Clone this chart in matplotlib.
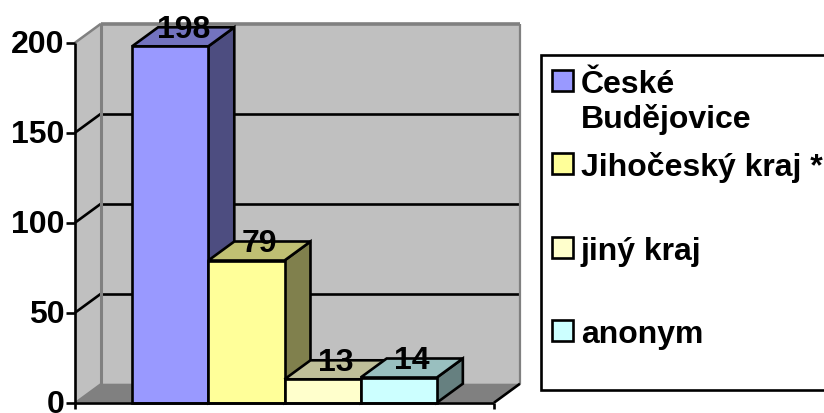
import matplotlib
matplotlib.use("Agg")
import matplotlib.pyplot as plt
from matplotlib.patches import Polygon, Rectangle

plt.rcParams['font.family'] = ['Liberation Sans', 'DejaVu Sans']
plt.rcParams['font.weight'] = 'bold'

# data
categories = ["České\nBudějovice", "Jihočeský kraj *", "jiný kraj", "anonym"]
values = [198, 79, 13, 14]
y_ticks = [0, 50, 100, 150, 200]

# colours: front, top, side
front_colors = ['#9999FF', '#FFFF99', '#FFFFCC', '#CCFFFF']
top_colors = ['#7373BF', '#BFBF73', '#BFBF99', '#99BFBF']
side_colors = ['#4D4D80', '#80804D', '#808066', '#668080']

W, H = 824, 414
fig = plt.figure(figsize=(W / 100, H / 100), dpi=100)

# axes is the front plane of the 3d box
x0, x1, y0, y1 = 75, 494, 403.7, 43.7
ax = fig.add_axes([x0 / W, 1 - y0 / H, (x1 - x0) / W, (y0 - y1) / H])
ax.set_xlim(-0.75, 4.75)
ax.set_ylim(0, 200)
ax.axis('off')

# depth of the box in data units
dx = 26 / 76.25
dy = 19 / 1.8
xl, xr = ax.get_xlim()
LW = 1.9


def poly(pts, fc, ec='none', lw=0, z=1):
    ax.add_patch(Polygon(pts, closed=True, facecolor=fc, edgecolor=ec, linewidth=lw,
                         zorder=z, clip_on=False, joinstyle='miter'))


def line(xs, ys, color='black', lw=LW, z=2):
    ax.plot(xs, ys, color=color, lw=lw, zorder=z, clip_on=False, solid_capstyle='butt')


# walls and floor
poly([(xl + dx, dy), (xr + dx, dy), (xr + dx, 200 + dy), (xl + dx, 200 + dy)], '#C0C0C0')
poly([(xl, 0), (xl + dx, dy), (xl + dx, 200 + dy), (xl, 200)], '#C0C0C0')
poly([(xl, 0), (xr, 0), (xr + dx, dy), (xl + dx, dy)], '#808080')

# grid lines
for t in y_ticks[1:-1]:
    line([xl + dx, xr + dx], [t + dy, t + dy])
    line([xl, xl + dx], [t, t + dy])

# wall borders
line([xl + dx, xr + dx], [200 + dy, 200 + dy], '#808080', 2.6)
line([xr + dx, xr + dx], [dy, 200 + dy], '#808080', 1.6)
line([xl + dx, xl + dx], [dy, 200 + dy], '#808080', 2.2)
line([xl, xl + dx], [200, 200 + dy], '#808080', 1.8)
line([xl, xl + dx], [0, dy], '#808080', 1.2)

# axis lines and ticks
line([xl, xl], [0, 200], z=6)
line([xl, xr], [0, 0], z=6)
line([xr, xr + dx], [0, dy], z=2)
for t in y_ticks:
    line([xl - 0.12, xl], [t, t], z=6)
    ax.text(xl - 0.14, t - 0.5, str(t), ha='right', va='center', fontsize=23, zorder=7)
line([xl, xl], [0, -3.5], z=6)
line([xr, xr], [0, -3.5], z=6)

# bars, each one unit wide
for i, v in enumerate(values):
    poly([(i + 1, 0), (i + 1 + dx, dy), (i + 1 + dx, v + dy), (i + 1, v)],
         side_colors[i], 'black', LW, 3 + i * 0.1)
    poly([(i, v), (i + 1, v), (i + 1 + dx, v + dy), (i + dx, v + dy)],
         top_colors[i], 'black', LW, 3 + i * 0.1)
    poly([(i, 0), (i + 1, 0), (i + 1, v), (i, v)],
         front_colors[i], 'black', LW, 3 + i * 0.1)

for i, v in enumerate(values):
    ax.text(i + 0.5 + dx / 2, v + dy - 1.1, str(v), ha='center', va='center', fontsize=23, zorder=8)

# legend box, runs off the right edge like the original
px = fig.add_axes([0, 0, 1, 1], facecolor='none')
px.set_xlim(0, W)
px.set_ylim(H, 0)
px.axis('off')
px.add_patch(Rectangle((541.5, 56), 320, 335, facecolor='white', edgecolor='black', lw=LW, zorder=1))
swatch_y = [71, 154, 238, 321]
text_y = [85, 168, 252, 335]
for c, col, sy, ty in zip(categories, front_colors, swatch_y, text_y):
    px.add_patch(Rectangle((552, sy), 21, 21, facecolor=col, edgecolor='black', lw=LW, zorder=2))
    lines = c.split("\n")
    for k, s in enumerate(lines):
        px.text(581, ty + k * 35, s, ha='left', va='center', fontsize=23, zorder=3)

fig.savefig("out.png", dpi=100)
